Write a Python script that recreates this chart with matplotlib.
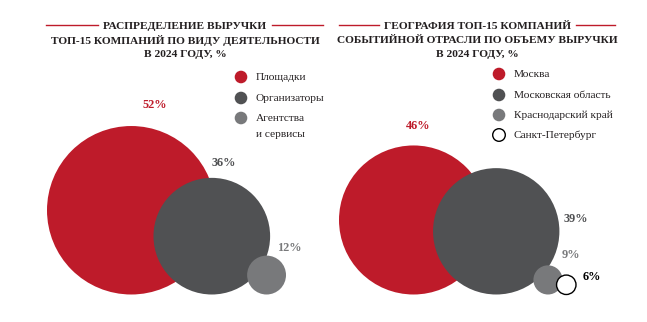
import matplotlib
matplotlib.use("Agg")
import matplotlib.pyplot as plt
from matplotlib.patches import Circle

plt.rcParams.update({"font.family": ["Liberation Serif", "DejaVu Serif"], "font.size": 8})

RED, DARK, GRAY = "#be1b2a", "#505153", "#78797b"

# left panel: revenue by activity
act_labels = ["Площадки", "Организаторы", "Агентства\nи сервисы"]
act_values = [52, 36, 12]
act_colors = [RED, DARK, GRAY]

# right panel: geography
geo_labels = ["Москва", "Московская область", "Краснодарский край", "Санкт-Петербург"]
geo_values = [46, 39, 9, 6]
geo_colors = [RED, DARK, GRAY, "white"]

title_left = "РАСПРЕДЕЛЕНИЕ ВЫРУЧКИ\nТОП-15 КОМПАНИЙ ПО ВИДУ ДЕЯТЕЛЬНОСТИ\nВ 2024 ГОДУ, %"
title_right = "ГЕОГРАФИЯ ТОП-15 КОМПАНИЙ\nСОБЫТИЙНОЙ ОТРАСЛИ ПО ОБЪЕМУ ВЫРУЧКИ\nВ 2024 ГОДУ, %"

W, H = 647, 322
fig = plt.figure(figsize=(W / 100, H / 100), dpi=100)
ax = fig.add_axes([0, 0, 1, 1])
ax.set_xlim(0, W)
ax.set_ylim(H, 0)
ax.set_aspect("equal")
ax.axis("off")

SCALE = 1.62      # px of radius per percent
BASE_Y = 294.5    # circles sit on this line


def bubbles(values, colors, left, overlaps, label_offsets):
    x = left
    prev_r = None
    for i, (v, c) in enumerate(zip(values, colors)):
        r = v * SCALE
        if prev_r is None:
            cx = x + r
        else:
            cx = x + prev_r + r - overlaps[i - 1]
        cy = BASE_Y - r
        ec = "black" if c == "white" else "none"
        ax.add_patch(Circle((cx, cy), r, facecolor=c, edgecolor=ec, lw=1.0, zorder=2 + i))
        dx, dy = label_offsets[i]
        tc = "black" if c == "white" else c
        ax.text(cx + dx, cy + dy, f"{v}%", color=tc, fontsize=8.8, fontweight="bold",
                ha="center", va="center")
        x, prev_r = cx, r


bubbles(act_values, act_colors, 47, [62, 23],
        [(24, -105), (12, -73), (23, -27)])
bubbles(geo_values, geo_colors, 339, [55, 26, 6],
        [(5, -94), (80, -12), (23, -25), (26, -8)])

renderer = fig.canvas.get_renderer()


def title(cx, text, x0, x1):
    first = None
    for k, line in enumerate(text.split("\n")):
        t = ax.text(cx, 25 + 14 * k, line, ha="center", va="center_baseline", fontsize=8.2,
                    fontweight="bold", color="#231f20")
        first = first or t
    # red rules on both sides of the first line, with a small gap
    bb = first.get_window_extent(renderer).transformed(ax.transData.inverted())
    ax.plot([x0, min(bb.x0, bb.x1) - 5], [25, 25], color=RED, lw=1)
    ax.plot([max(bb.x0, bb.x1) + 5, x1], [25, 25], color=RED, lw=1)


title(185, title_left, 46, 323)
title(477, title_right, 339, 615)


def legend(x, ys, labels, colors):
    for y, lab, c in zip(ys, labels, colors):
        ec = "black" if c == "white" else "none"
        ax.add_patch(Circle((x, y), 6.3, facecolor=c, edgecolor=ec, lw=1.0))
        for k, line in enumerate(lab.split("\n")):
            ax.text(x + 15, y - 1 + 16 * k, line, ha="left", va="center_baseline",
                    fontsize=8.2, color="#231f20")


legend(241, [77, 98, 118], act_labels, act_colors)
legend(499, [74, 95, 115, 135], geo_labels, geo_colors)

fig.savefig("out.png", dpi=100)
